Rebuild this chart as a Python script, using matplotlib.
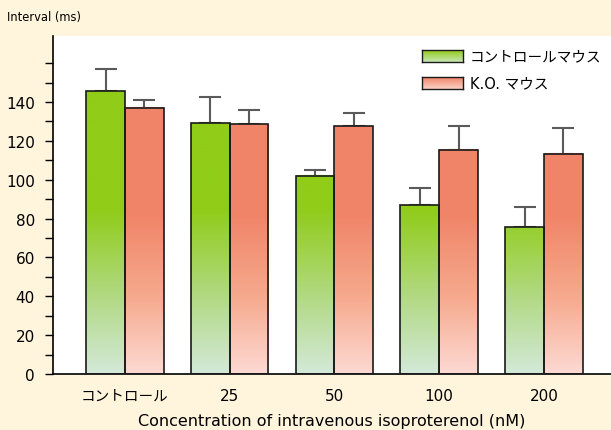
import numpy as np
import matplotlib
matplotlib.use("Agg")
import matplotlib.pyplot as plt
from matplotlib.colors import LinearSegmentedColormap, Normalize

plt.rcParams['font.family'] = ['DejaVu Sans', 'Noto Sans CJK JP']

categories = ["コントロール", "25", "50", "100", "200"]
series_names = ["コントロールマウス", "K.O. マウス"]
control_vals = [145.5, 129, 102, 87, 75.5]
control_err = [11.5, 13.5, 3, 8.5, 10.5]
ko_vals = [137, 128.5, 127.5, 115.5, 113.5]
ko_err = [4, 7.5, 7, 12, 13]
y_label = "Interval (ms)"
x_label = "Concentration of intravenous isoproterenol (nM)"

BG = "#FFF4DC"
YMAX = 174

green_cmap = LinearSegmentedColormap.from_list(
    "g", [(0, "#D3E9D8"), (40 / YMAX, "#B1D982"), (85 / YMAX, "#90CC18"), (1, "#90CC18")])
red_cmap = LinearSegmentedColormap.from_list(
    "r", [(0, "#FDD9D2"), (40 / YMAX, "#F6A98D"), (82 / YMAX, "#F08468"), (1, "#F08468")])
norm = Normalize(0, YMAX)

fig = plt.figure(figsize=(6.11, 4.31), dpi=100, facecolor=BG)
ax = fig.add_axes([53 / 611, 1 - 375 / 431, 1 - 53 / 611, (375 - 37) / 431])
ax.set_facecolor("white")

x = np.arange(len(categories))
w = 0.37

for vals, errs, cmap, off in [(control_vals, control_err, green_cmap, -w / 2),
                              (ko_vals, ko_err, red_cmap, w / 2)]:
    xs = x + off
    for xi, v in zip(xs, vals):
        grad = np.linspace(0, v, 256).reshape(-1, 1)
        ax.imshow(grad, cmap=cmap, norm=norm, origin="lower", aspect="auto",
                  extent=(xi - w / 2, xi + w / 2, 0, v), zorder=2, interpolation="bilinear")
    ax.bar(xs, vals, width=w, facecolor="none", edgecolor="#1a1a1a", linewidth=1.2, zorder=3)
    ax.errorbar(xs, vals, yerr=[np.zeros(len(vals)), errs], fmt="none",
                ecolor="#5a5a5a", elinewidth=1.5, capsize=8, capthick=1.5, zorder=1)

ax.set_xlim(-0.687, 4.64)
ax.set_ylim(0, YMAX)
ax.set_xticks(x)
ax.set_xticklabels(categories, fontsize=11)
ax.get_xticklabels()[0].set_fontsize(10.5)
ax.tick_params(axis="x", length=0, pad=10)
ticks = np.arange(0, 161, 10)
ax.set_yticks(ticks)
ax.set_yticklabels([str(t) if (t % 20 == 0 and t <= 140) else "" for t in ticks], fontsize=11)
ax.tick_params(axis="y", length=6, width=1, direction="out", pad=7)
for s in ["top", "right"]:
    ax.spines[s].set_visible(False)
ax.spines["left"].set_linewidth(1.2)
ax.spines["bottom"].set_linewidth(1.2)
ax.set_xlabel(x_label, fontsize=11.5, labelpad=7.5)

fig.text(7 / 611, 1 - 18 / 431, y_label, fontsize=8.3, va="center", ha="left")

# legend
leg_cmaps = [LinearSegmentedColormap.from_list("lg", ["#C8E6B4", "#90CC18"]),
             LinearSegmentedColormap.from_list("lr", ["#FAD2C4", "#F08468"])]
leg_y = [57, 84]
for name, cm, yc in zip(series_names, leg_cmaps, leg_y):
    sax = fig.add_axes([422 / 611, 1 - (yc + 6) / 431, 41 / 611, 12 / 431])
    sax.imshow(np.linspace(0, 1, 64).reshape(-1, 1), cmap=cm, origin="lower",
               aspect="auto", extent=(0, 1, 0, 1))
    sax.set_xticks([]); sax.set_yticks([])
    for sp in sax.spines.values():
        sp.set_linewidth(1.0); sp.set_color("#1a1a1a")
    fig.text(470 / 611, 1 - yc / 431, name, fontsize=10.5, va="center", ha="left")

fig.savefig("out.png", dpi=100, facecolor=BG)
